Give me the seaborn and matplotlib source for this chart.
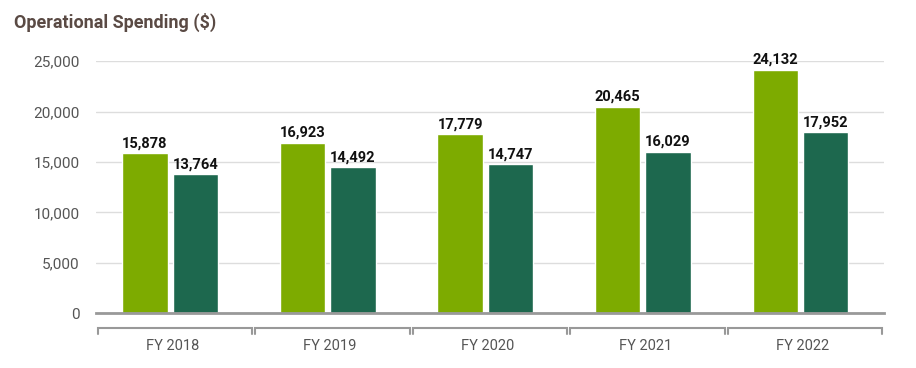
import numpy as np
import pandas as pd
import matplotlib
matplotlib.use("Agg")
import matplotlib.pyplot as plt
import matplotlib.transforms as mtransforms
import seaborn as sns

# Values
years = ["FY 2018", "FY 2019", "FY 2020", "FY 2021", "FY 2022"]
series_a = [15878, 16923, 17779, 20465, 24132]   # light green bars
series_b = [13764, 14492, 14747, 16029, 17952]   # dark green bars
series_names = ["Series A", "Series B"]
colors = ["#7dab00", "#1d684e"]
yticks = [0, 5000, 10000, 15000, 20000, 25000]

df = pd.DataFrame({
    "year": years * 2,
    "series": [series_names[0]] * len(years) + [series_names[1]] * len(years),
    "value": series_a + series_b,
})

sns.set_style("white")
plt.rcParams["font.family"] = ["Roboto", "DejaVu Sans"]

fig = plt.figure(figsize=(9.16, 3.68), dpi=100)
ax = fig.add_axes([0.105, 0.149, 0.86, 0.685])

sns.barplot(data=df, x="year", y="value", hue="series", palette=colors,
            width=0.64, gap=0.1, legend=False, ax=ax, saturation=1,
            errorbar=None)

# value labels on top of the bars
for cont in ax.containers:
    ax.bar_label(cont, labels=[f"{v:,.0f}" for v in cont.datavalues],
                 padding=2, fontsize=10.5, fontweight="bold", color="#111111")

# bars sit a little left of the centre of each category bracket
shift = 0.03
ax.set_ylim(0, 25000)
ax.set_xlim(-0.5 + shift, len(years) - 0.5 + shift)
ax.set_yticks(yticks)
ax.set_yticklabels([f"{t:,}" for t in yticks], fontsize=11, color="#555555")
ax.yaxis.grid(True, color="#dddddd", linewidth=1)
ax.set_axisbelow(True)
ax.tick_params(axis="y", length=0, pad=12)
ax.tick_params(axis="x", length=0, labelbottom=False)
ax.set_xlabel("")
ax.set_ylabel("")
for s in ["top", "right", "left"]:
    ax.spines[s].set_visible(False)
ax.spines["bottom"].set_color("#999999")
ax.spines["bottom"].set_linewidth(2)

# bracket-style category axis below the plot
trans = mtransforms.blended_transform_factory(ax.transData, ax.transAxes)
px = 1.0 / (0.685 * 368)
y_line = -15 * px
y_tick = -21 * px
for i, name in enumerate(years):
    x0, x1 = i + shift - 0.49, i + shift + 0.49
    ax.plot([x0, x0, x1, x1], [y_tick, y_line, y_line, y_tick], color="#999999",
            lw=1.5, transform=trans, clip_on=False, solid_joinstyle="miter")
    ax.text(i + shift * 0.5, -33 * px, name, transform=trans, ha="center",
            va="center", fontsize=10.5, color="#555555")

fig.text(14 / 916, 1 - 22 / 368, "Operational Spending ($)", ha="left", va="center",
         fontsize=13, fontweight="bold", color="#5a4a44")

fig.savefig("out.png", dpi=100)
